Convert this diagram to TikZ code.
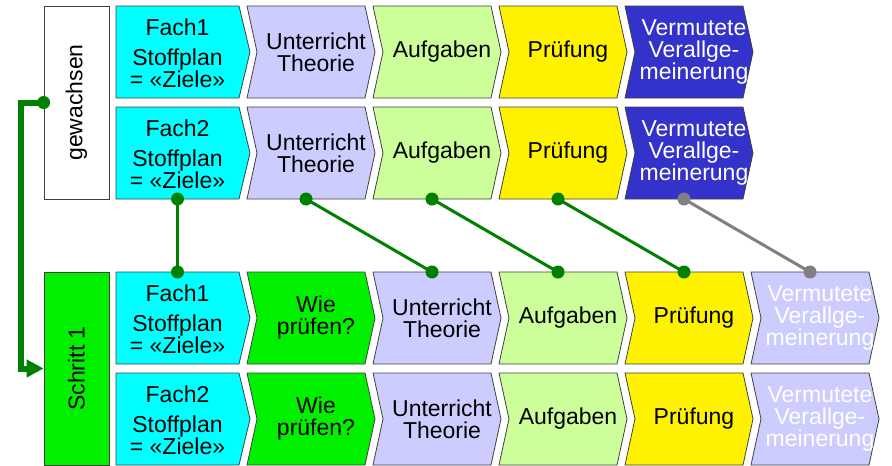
\documentclass[tikz,border=0pt]{standalone}
\usepackage{fontspec}
\setmainfont{Liberation Sans}
\usepackage{xcolor}
\usepackage{tikz}
\usetikzlibrary{arrows.meta,positioning}

\definecolor{fachcyan}{RGB}{0,255,255}
\definecolor{lavender}{RGB}{204,204,255}
\definecolor{paleg}{RGB}{204,255,153}
\definecolor{deepblue}{RGB}{51,51,204}
\definecolor{stepgreen}{RGB}{0,240,0}
\definecolor{linkgreen}{RGB}{0,128,0}
\definecolor{linkgrey}{RGB}{128,128,128}

\begin{document}
\begin{tikzpicture}[x=1pt, y=-1pt,
    every node/.style = {align=center, inner sep=0pt, font=\fontsize{23}{22}\selectfont},
    stage/.style = {draw=black!75, line width=0.8pt},
    side/.style = {draw=black!75, line width=0.8pt, minimum width=65pt, minimum height=193pt},
    link/.style = {draw=linkgreen, line width=3pt}]
    \useasboundingbox (0,0) rectangle (892,466);

    % side boxes
    \node[side, fill=white] (gew) at (76.5,102.5) {\rotatebox{90}{gewachsen}};
    \node[side, fill=stepgreen] (step) at (76.5,368.5) {\rotatebox{90}{Schritt 1}};

    % Fach column
    \foreach \y/\r/\i in {6/a/1, 107/b/2, 272/c/1, 373/d/2} {
      \draw[stage, fill=fachcyan] (116,\y) -- ++(123,0) -- ++(11,46) -- ++(-11,46) -- ++(-123,0) -- cycle;
      \node (\r f) at (177.5,{\y+47}) {Fach\i\\[8pt]Stoffplan\\= «Ziele»};
      \coordinate (\r f-t) at (177.5,\y);
      \coordinate (\r f-b) at (177.5,{\y+92});
    }

    % gewachsen rows
    \foreach \y/\r in {6/a, 107/b} {
      \foreach \k/\fc/\tc/\n/\txt in {0/lavender/black/u/{Unterricht\\Theorie}, 1/paleg/black/a/Aufgaben,
          2/yellow/black/p/Prüfung, 3/deepblue/white/v/{Vermutete\\Verallge-\\meinerung}} {
        \draw[stage, fill=\fc] ({247+126*\k},\y) -- ++(118,0) -- ++(10,46) -- ++(-10,46) -- ++(-118,0) -- ++(10,-46) -- cycle;
        \node[text=\tc] (\r\n) at ({316+126*\k},{\y+46}) {\txt};
        \coordinate (\r\n-t) at ({306+126*\k},\y);
        \coordinate (\r\n-b) at ({306+126*\k},{\y+92});
      }
    }

    % Schritt 1 rows
    \foreach \y/\r in {272/c, 373/d} {
      \foreach \k/\fc/\tc/\n/\txt in {0/stepgreen/black/w/{Wie\\prüfen?}, 1/lavender/black/u/{Unterricht\\Theorie},
          2/paleg/black/a/Aufgaben, 3/yellow/black/p/Prüfung, 4/lavender/white/v/{Vermutete\\Verallge-\\meinerung}} {
        \draw[stage, fill=\fc] ({247+126*\k},\y) -- ++(118,0) -- ++(10,46) -- ++(-10,46) -- ++(-118,0) -- ++(10,-46) -- cycle;
        \node[text=\tc] (\r\n) at ({316+126*\k},{\y+46}) {\txt};
        \coordinate (\r\n-t) at ({306+126*\k},\y);
        \coordinate (\r\n-b) at ({306+126*\k},{\y+92});
      }
    }

    % links
    \draw[link] (bf-b) -- (cf-t);
    \draw[link] (bu-b) -- (cu-t);
    \draw[link] (ba-b) -- (ca-t);
    \draw[link] (bp-b) -- (cp-t);
    \draw[link, draw=linkgrey] (bv-b) -- (cv-t);
    \foreach \c in {bf-b, cf-t, bu-b, cu-t, ba-b, ca-t, bp-b, cp-t}
      \fill[linkgreen] (\c) circle (6.5pt);
    \fill[linkgrey] (bv-b) circle (6.5pt) (cv-t) circle (6.5pt);

    \draw[line width=6pt, linkgreen, -{Triangle[length=17pt, width=17pt]}] (gew.west) -- ++(-23,0) |- (step.west);
    \fill[linkgreen] (gew.west) circle (6.5pt);
\end{tikzpicture}
\end{document}
